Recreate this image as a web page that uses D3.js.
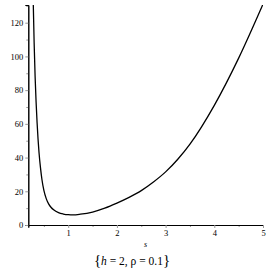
<!DOCTYPE html>
<html>
<head>
<meta charset="utf-8">
<script src="https://cdn.jsdelivr.net/npm/d3@7"></script>
<style>
  body { margin: 0; background: #fff; }
  text { font-family: "Liberation Serif", "DejaVu Serif", serif; }
</style>
</head>
<body>
<div id="chart"></div>
<script>

// values
var sVals = [0.28, 0.30, 0.32, 0.34, 0.36, 0.38, 0.40, 0.43, 0.46, 0.50, 0.55, 0.60, 0.65, 0.70, 0.80, 0.90, 1.0, 1.1, 1.25, 1.5, 1.75, 2.0, 2.25, 2.5, 2.75, 3.0, 3.25, 3.5, 4.0, 4.5, 5.0];
var yVals = [134, 108, 88, 73, 61, 51, 43, 34, 27, 20.5, 15.5, 12.4, 10.4, 9.0, 7.3, 6.5, 6.1, 6.0, 6.4, 7.7, 10.0, 13, 16.4, 20.4, 25.5, 31.5, 39, 48, 71, 99, 131];

var xTicks = [1, 2, 3, 4, 5];
var xMinor = [0.5, 1.5, 2.5, 3.5, 4.5];
var yTicks = [0, 20, 40, 60, 80, 100, 120];
var yMinor = [10, 30, 50, 70, 90, 110, 130];

var width = 270, height = 270;

var svg = d3.select("#chart").append("svg")
	.attr("width", width)
	.attr("height", height);

var x = d3.scaleLinear().domain([0.18, 5]).range([28.3, 263]);
var y = d3.scaleLinear().domain([0, 130.5]).range([225, 5]);

svg.append("clipPath").attr("id", "clip")
	.append("rect")
	.attr("x", x(0.18)).attr("y", y(130.5))
	.attr("width", x(5) - x(0.18)).attr("height", y(0) - y(130.5));

// minor ticks
var xMin = svg.append("g")
	.attr("transform", "translate(0," + y(0) + ")")
	.call(d3.axisBottom(x).tickValues(xMinor).tickSize(2).tickFormat(""));
var yMin = svg.append("g")
	.attr("transform", "translate(" + x(0.18) + ",0)")
	.call(d3.axisLeft(y).tickValues(yMinor.filter(function(v) { return v <= 130.5; })).tickSize(2).tickFormat(""));

// major ticks
var xAxis = svg.append("g")
	.attr("transform", "translate(0," + y(0) + ")")
	.call(d3.axisBottom(x).tickValues(xTicks).tickSize(3).tickPadding(2).tickFormat(d3.format("d")));
var yAxis = svg.append("g")
	.attr("transform", "translate(" + x(0.18) + ",0)")
	.call(d3.axisLeft(y).tickValues(yTicks).tickSize(3).tickPadding(2).tickFormat(d3.format("d")));

[xMin, yMin, xAxis, yAxis].forEach(function(g) {
	g.select(".domain").attr("stroke", "#000").attr("stroke-width", 1);
	g.selectAll(".tick line").attr("stroke", "#999");
	g.selectAll(".tick text")
		.style("font-family", "'Liberation Serif', serif")
		.style("font-size", "8.5px")
		.attr("fill", "#000");
});

// curve
var pts = sVals.map(function(s, i) { return [s, yVals[i]]; });

svg.append("path")
	.datum(pts)
	.attr("clip-path", "url(#clip)")
	.attr("fill", "none")
	.attr("stroke", "#000")
	.attr("stroke-width", 1.3)
	.attr("d", d3.line()
		.x(function(d) { return x(d[0]); })
		.y(function(d) { return y(d[1]); })
		.curve(d3.curveMonotoneX));

// axis label
svg.append("text")
	.attr("x", (x(0.18) + x(5)) / 2)
	.attr("y", 247)
	.attr("text-anchor", "middle")
	.style("font-size", "8px")
	.style("font-style", "italic")
	.text("s");

// caption
var cap = svg.append("text")
	.attr("x", 132)
	.attr("y", 265)
	.attr("text-anchor", "middle")
	.style("font-size", "11.5px");
cap.append("tspan").style("font-size", "15px").text("{");
cap.append("tspan").style("font-style", "italic").text("h");
cap.append("tspan").text(" = 2, \u03C1 = 0.1");
cap.append("tspan").style("font-size", "15px").text("}");

</script>
</body>
</html>
